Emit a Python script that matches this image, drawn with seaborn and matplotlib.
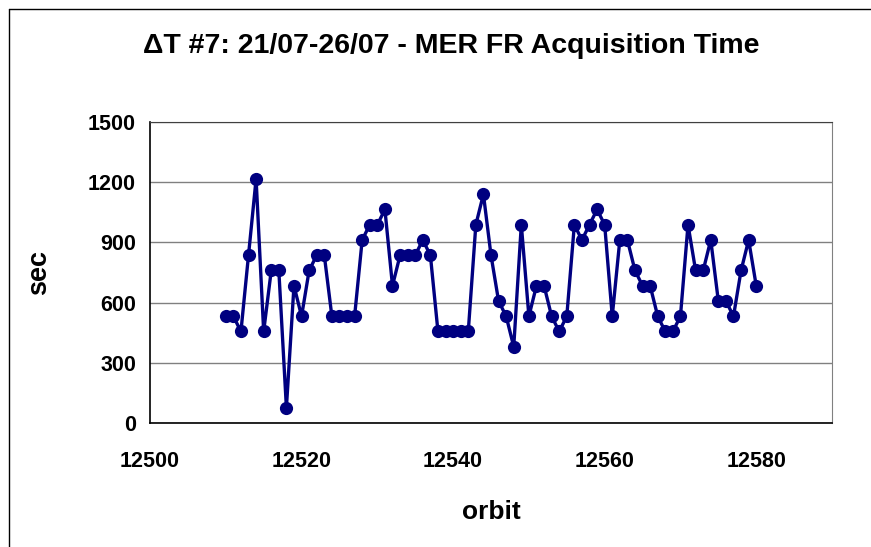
import matplotlib.pyplot as plt
import matplotlib.lines as mlines
import seaborn as sns
import pandas as pd

# ── Data ──────────────────────────────────────────────────────────────────────

orbits = list(range(12510, 12581))
acq_time = [
    532, 532, 456, 836, 1216, 456, 760, 760, 76, 684,
    532, 760, 836, 836, 532, 532, 532, 532, 912, 988,
    988, 1064, 684, 836, 836, 836, 912, 836, 456, 456,
    456, 456, 456, 988, 1140, 836, 608, 532, 380, 988,
    532, 684, 684, 532, 456, 532, 988, 912, 988, 1064,
    988, 532, 912, 912, 760, 684, 684, 532, 456, 456,
    532, 988, 760, 760, 912, 608, 608, 532, 760, 912,
    684,
]
x_ticks = [12500, 12520, 12540, 12560, 12580]
y_ticks = [0, 300, 600, 900, 1200, 1500]

df = pd.DataFrame({"orbit": orbits, "sec": acq_time})

# ── Style ─────────────────────────────────────────────────────────────────────

sns.set_style("white")
plt.rcParams["font.family"] = ["Liberation Sans", "DejaVu Sans"]
plt.rcParams["font.weight"] = "bold"
plt.rcParams["text.color"] = "black"
plt.rcParams["axes.labelcolor"] = "black"
plt.rcParams["xtick.color"] = "black"
plt.rcParams["ytick.color"] = "black"

fig = plt.figure(figsize=(8.71, 5.47), dpi=100)
ax = fig.add_axes([150 / 871, 1 - 423 / 547, (832 - 150) / 871, (423 - 122) / 547])

sns.lineplot(
    data=df, x="orbit", y="sec", ax=ax,
    color="#000080", linewidth=2.4,
    marker="o", markersize=9.5, markeredgewidth=0,
)

ax.set_xlim(12500, 12590)
ax.set_ylim(0, 1500)
ax.set_xticks(x_ticks)
ax.set_yticks(y_ticks)
ax.yaxis.grid(True, color="#808080", linewidth=1)
ax.set_axisbelow(True)

for side in ["left", "bottom"]:
    ax.spines[side].set_color("black")
    ax.spines[side].set_linewidth(1.2)
ax.spines["right"].set_color("#808080")
ax.spines["top"].set_color("#404040")

ax.tick_params(axis="both", direction="out", length=6, width=1, color="black",
               labelsize=15.5)
ax.tick_params(axis="x", pad=14)
ax.tick_params(axis="y", pad=4)
for lbl in ax.get_xticklabels() + ax.get_yticklabels():
    lbl.set_fontweight("bold")

ax.set_xlabel("orbit", fontsize=19, fontweight="bold", labelpad=20)
ax.set_ylabel("sec", fontsize=19.5, fontweight="bold", labelpad=26)

fig.text(451 / 871, 1 - 46 / 547, "ΔT #7: 21/07-26/07 - MER FR Acquisition Time",
         ha="center", va="center", fontsize=20.5, fontweight="bold")

# outer chart border (top and left edges visible)
fig.add_artist(mlines.Line2D([9 / 871, 1.0], [1 - 9 / 547, 1 - 9 / 547],
                             transform=fig.transFigure, color="black", linewidth=1))
fig.add_artist(mlines.Line2D([9 / 871, 9 / 871], [0.0, 1 - 9 / 547],
                             transform=fig.transFigure, color="black", linewidth=1))

fig.savefig("out.png", dpi=100)
